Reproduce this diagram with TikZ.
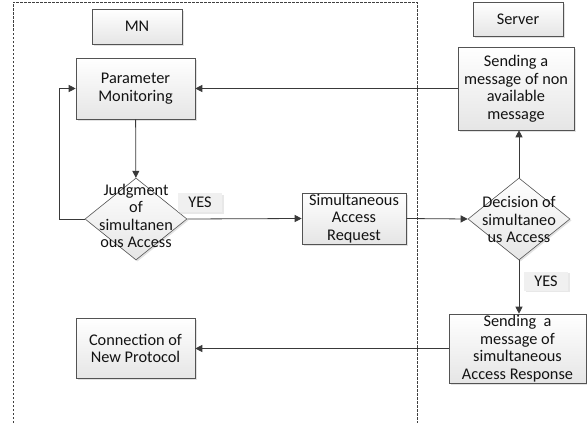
\documentclass[tikz,border=0pt]{standalone}
\usepackage{fontspec}
\setmainfont{Carlito}
\usetikzlibrary{shapes.geometric, shadows, arrows.meta}
\tikzset{
    normal/.style={draw=gray!65!black, semithick},
    shade/.style={top color=white, bottom color=gray!20, drop shadow={shadow xshift=1.5pt, shadow yshift=-1.5pt, fill=gray!45}},
    box/.style={style=normal, style=shade, inner sep=0pt, align=center, text=gray!15!black},
    dec/.style={style=normal, style=shade, diamond, inner sep=0pt, minimum width=102pt, minimum height=82pt},
    dectext/.style={align=center, text=gray!15!black},
    yes/.style={fill=gray!12, drop shadow={shadow xshift=1.5pt, shadow yshift=-1.5pt, fill=gray!35}, minimum width=44pt, minimum height=19pt, inner sep=0pt, text=gray!15!black},
    e/.style={draw=gray!45!black, line width=0.8pt, -{Triangle[length=7pt, width=7pt]}},
    frame/.style={draw=gray!50!black, dashed, dash pattern=on 2.5pt off 1.5pt, thin}
}

\begin{document}
\begin{tikzpicture}[x=1pt, y=-1pt, font=\fontsize{16.3}{17.5}\selectfont]
        \useasboundingbox (0,0) rectangle (587,423);
        % lanes
        \draw[frame] (13,423) |- (417,2) -- (417,423);

        \node[box, minimum width=90pt, minimum height=35pt] (mn) at (137,26.5) {MN};
        \node[box, minimum width=90pt, minimum height=34pt] (server) at (518,19) {Server};

        \node[box, minimum width=119pt, minimum height=61pt] (param) at (135.5,88.5) {Parameter\\Monitoring};
        \node[dec] (judge) at (136,219) {};
        \node[dectext] at (136,216) {Judgment\\of\\simultanen\\ous Access};
        \node[yes] (yes_judge) at (200,202.5) {YES};

        \node[box, minimum width=104pt, minimum height=51pt] (request) at (354,218.5) {Simultaneous\\Access\\Request};

        \node[dec] (decision) at (519,219) {};
        \node[dectext] at (519,219.5) {Decision of\\simultaneo\\us Access};
        \node[yes] (yes_decision) at (546,281) {YES};

        \node[box, minimum width=116pt, minimum height=83pt] (nonavail) at (516,88.5) {Sending a\\message of non\\available\\message};
        \node[box, minimum width=137pt, minimum height=69pt] (response) at (517.5,348.5) {Sending\ \ a\\message of\\simultaneous\\Access Response};
        \node[box, minimum width=119pt, minimum height=60pt] (protocol) at (135.5,348.5) {Connection of\\New Protocol};

        \draw[e] (param) -- (judge);
        \draw[e] (judge.west) -- ++(-25,0) |- (param.west);
        \draw[e] (judge.east) -- (request.west);
        \draw[e] (request.east) -- (decision.west);
        \draw[e] (decision.north) -- (decision.north |- nonavail.south);
        \draw[e] (nonavail.west) -- (param.east);
        \draw[e] (decision.south) -- (decision.south |- response.north);
        \draw[e] (response.west) -- (protocol.east);
      \end{tikzpicture}
\end{document}
